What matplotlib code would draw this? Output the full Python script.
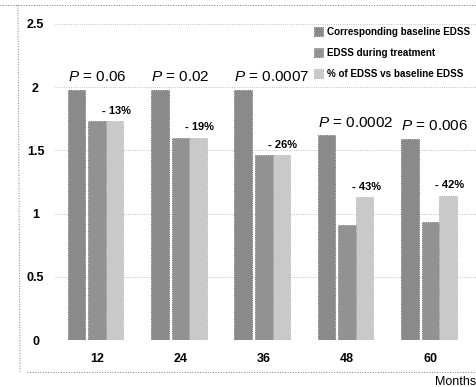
import matplotlib.pyplot as plt
from matplotlib.lines import Line2D
import numpy as np

months = ["12", "24", "36", "48", "60"]
baseline = [1.98, 1.98, 1.98, 1.62, 1.59]
treatment = [1.73, 1.60, 1.46, 0.91, 0.93]
pct_vs_baseline = [1.73, 1.60, 1.46, 1.13, 1.14]
p_values = ["0.06", "0.02", "0.0007", "0.0002", "0.006"]
pct_labels = ["- 13%", "- 19%", "- 26%", "- 43%", "- 42%"]
series_names = ["Corresponding baseline EDSS", "EDSS during treatment",
                "% of EDSS vs baseline EDSS"]
yticks = [0, 0.5, 1, 1.5, 2, 2.5]
ytick_labels = ["0", "0.5", "1", "1.5", "2", "2.5"]

plt.rcParams["font.family"] = ["Liberation Sans", "DejaVu Sans"]
plt.rcParams["mathtext.fontset"] = "custom"
plt.rcParams["mathtext.it"] = "Liberation Sans:italic"
plt.rcParams["mathtext.rm"] = "Liberation Sans"

fig = plt.figure(figsize=(4.77, 3.87), dpi=100)
ax = fig.add_axes([0.1153, 0.1214, 0.885, 0.8656])

x = np.arange(len(months))
w = 0.21
colors = ["#8a8a8a", "#929292", "#c9c9c9"]
edges = ["#4a4a4a", "#555555", "#9a9a9a"]
offsets = [-0.247, 0.0, 0.21]

for vals, off, c, e, name in zip([baseline, treatment, pct_vs_baseline],
                                 offsets, colors, edges, series_names):
    ax.bar(x + off, vals, width=w, color=c, edgecolor=e, linewidth=0.6,
           linestyle=":", label=name, zorder=2)

# P values above the baseline bars
for i, p in enumerate(p_values):
    ax.annotate(r"$P$" + " = " + p, (x[i] + offsets[0] - w / 2, baseline[i]),
                xytext=(0, 4), textcoords="offset points", ha="left", va="bottom",
                fontsize=11)

# percentage change above the third bar
for i, lab in enumerate(pct_labels):
    ax.annotate(lab, (x[i] + offsets[2], pct_vs_baseline[i]),
                xytext=(1, 4), textcoords="offset points", ha="center", va="bottom",
                fontsize=8, fontweight="bold")

ax.set_xlim(-0.505, 4.56)
ax.set_ylim(0, 2.65)
ax.set_xticks(x)
ax.set_xticklabels(months, fontsize=9, fontweight="bold")
ax.set_yticks(yticks)
ax.set_yticklabels(ytick_labels, fontsize=9, fontweight="bold", ha="center")
ax.tick_params(axis="both", length=0)
ax.tick_params(axis="y", pad=14)
ax.tick_params(axis="x", pad=9)
for s in ax.spines.values():
    s.set_visible(False)
ax.yaxis.grid(True, linestyle=":", color="#b0b0b0", linewidth=0.6, zorder=0)
ax.set_axisbelow(True)

ax.legend(loc="upper left", bbox_to_anchor=(307 / 477, 1 - 20 / 387),
          bbox_transform=fig.transFigure, frameon=False,
          prop={"size": 7.1, "weight": "bold"}, handlelength=0.9,
          handleheight=1.05, handletextpad=0.45, labelspacing=1.1,
          borderpad=0.2)

# dotted frame around the chart
dot = dict(linestyle=":", color="#777777", linewidth=0.7, transform=fig.transFigure)
fig.add_artist(Line2D([0, 1], [1 - 5 / 387, 1 - 5 / 387], **dot))
fig.add_artist(Line2D([27 / 477, 1], [1 - 372 / 387, 1 - 372 / 387], **dot))
fig.add_artist(Line2D([18 / 477, 20 / 477], [1 - 5 / 387, 1 - 372 / 387], **dot))

fig.text(0.998, 1 - 382 / 387, "Months", ha="right", va="center", fontsize=9)

fig.savefig("out.png", dpi=100)
plt.close(fig)
